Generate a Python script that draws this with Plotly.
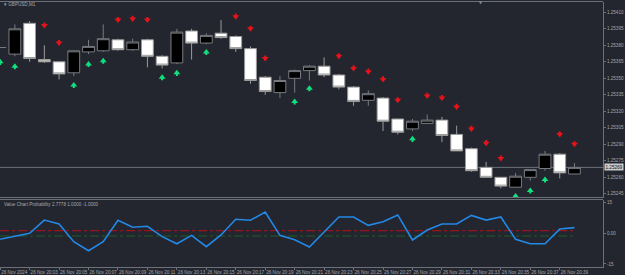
import plotly.graph_objects as go

# ---------------- data ----------------
bars = list(range(40))  # 26 Nov 20:01 ... 20:40 (M1)
opens = [1.25378, 1.25372, 1.25400, 1.25367, 1.25365, 1.25355, 1.25374, 1.25375, 1.25385, 1.25376,
         1.25385, 1.25370, 1.25364, 1.25393, 1.25382, 1.25391, 1.25388, 1.25377, 1.25351, 1.25337,
         1.25350, 1.25357, 1.25361, 1.25353, 1.25342, 1.25330, 1.25332, 1.25313, 1.25304, 1.25309,
         1.25312, 1.25299, 1.25286, 1.25269, 1.25260, 1.25251, 1.25260, 1.25268, 1.25281, 1.25263]
highs = [1.25378, 1.25399, 1.25402, 1.25380, 1.25365, 1.25375, 1.25385, 1.25399, 1.25386, 1.25386,
         1.25386, 1.25371, 1.25395, 1.25395, 1.25391, 1.25403, 1.25389, 1.25379, 1.25352, 1.25352,
         1.25358, 1.25362, 1.25369, 1.25354, 1.25343, 1.25339, 1.25333, 1.25313, 1.25313, 1.25317,
         1.25315, 1.25307, 1.25287, 1.25274, 1.25260, 1.25264, 1.25267, 1.25284, 1.25282, 1.25273]
lows = [1.25378, 1.25370, 1.25365, 1.25364, 1.25349, 1.25352, 1.25372, 1.25374, 1.25375, 1.25375,
        1.25360, 1.25359, 1.25363, 1.25367, 1.25381, 1.25386, 1.25374, 1.25345, 1.25335, 1.25332,
        1.25337, 1.25348, 1.25351, 1.25340, 1.25325, 1.25325, 1.25302, 1.25299, 1.25302, 1.25309,
        1.25292, 1.25284, 1.25265, 1.25260, 1.25250, 1.25251, 1.25257, 1.25266, 1.25259, 1.25263]
closes = [1.25378, 1.25395, 1.25368, 1.25365, 1.25354, 1.25375, 1.25379, 1.25386, 1.25376, 1.25383,
          1.25370, 1.25362, 1.25392, 1.25382, 1.25389, 1.25387, 1.25377, 1.25348, 1.25338, 1.25348,
          1.25357, 1.25361, 1.25353, 1.25342, 1.25329, 1.25336, 1.25311, 1.25301, 1.25311, 1.25312,
          1.25298, 1.25284, 1.25266, 1.25260, 1.25252, 1.25261, 1.25267, 1.25281, 1.25264, 1.25269]

sell_bars = [3, 4, 8, 9, 10, 16, 17, 18, 23, 24, 25, 26, 27, 29, 30, 31, 32, 33, 34, 38, 39]
sell_levels = [1.25398, 1.25382, 1.25403, 1.25404, 1.25403, 1.25406, 1.25395, 1.25368, 1.25370, 1.25359,
               1.25356, 1.25349, 1.25330, 1.25334, 1.25332, 1.25324, 1.25304, 1.25291, 1.25277, 1.25299,
               1.25290]
buy_bars = [0, 1, 5, 6, 7, 11, 12, 14, 20, 21, 28, 35, 36, 37]
buy_levels = [1.25365, 1.25361, 1.25344, 1.25363, 1.25366, 1.25351, 1.25355, 1.25374, 1.25329, 1.25341,
              1.25295, 1.25243, 1.25248, 1.25258]

value_chart = [-2.9, -1.45, 0.0, 6.5, 4.6, -4.1, -8.5, -4.1, 6.4, 3.0,
               3.45, -1.6, -5.1, -1.0, -6.5, -0.8, 6.9, 6.4, 10.45, -1.0,
               -3.1, -6.7, 0.5, 8.0, 8.0, 3.9, 5.7, 9.0, -3.25, 1.6,
               4.6, 4.6, 8.8, 6.5, 8.0, -2.9, -5.1, -5.1, 2.1, 2.8]
upper_level = 1.3
lower_level = -1.3

price_ticks = [1.25410, 1.25395, 1.25380, 1.25365, 1.25350, 1.25335, 1.25320,
               1.25305, 1.25290, 1.25275, 1.25260, 1.25245]
osc_ticks = [15, 0, -15]
osc_tick_text = ["15", "0.00", "-15"]
time_tick_bars = list(range(0, 40, 2))
time_tick_text = ["26 Nov 2024", "26 Nov 20:03", "26 Nov 20:05", "26 Nov 20:07", "26 Nov 20:09",
                  "26 Nov 20:11", "26 Nov 20:13", "26 Nov 20:15", "26 Nov 20:17", "26 Nov 20:19",
                  "26 Nov 20:21", "26 Nov 20:23", "26 Nov 20:25", "26 Nov 20:27", "26 Nov 20:29",
                  "26 Nov 20:31", "26 Nov 20:33", "26 Nov 20:35", "26 Nov 20:37", "26 Nov 20:39"]

# ---------------- style ----------------
BG = "#23262e"
FRAME = "#6c7078"
TXT = "#a3a7ae"
FONT = "Liberation Sans"
FS = 4.6
STEM = 0.000028  # arrow stem length (price units, style only)

W, H = 625, 275
ML, MR, MT, MB = 0, 22, 0, 8
PH = H - MT - MB
top_px, sep_px, sub_top_px = 1.5, 197.5, 199.5

fig = go.Figure()

fig.add_trace(go.Candlestick(
    x=bars, open=opens, high=highs, low=lows, close=closes,
    xaxis="x", yaxis="y", whiskerwidth=0, hoverinfo="skip",
    increasing=dict(fillcolor="#000000", line=dict(color="#777b80", width=1)),
    decreasing=dict(fillcolor="#ffffff", line=dict(color="#9a9a9a", width=1)),
))

fig.add_trace(go.Scatter(
    x=sell_bars, y=sell_levels, mode="markers", xaxis="x", yaxis="y", hoverinfo="skip",
    marker=dict(symbol="triangle-down", size=6, color="#e8121a", line=dict(width=0)),
    error_y=dict(type="constant", symmetric=False, value=STEM, valueminus=0,
                 color="#e8121a", thickness=2, width=0),
))
fig.add_trace(go.Scatter(
    x=buy_bars, y=buy_levels, mode="markers", xaxis="x", yaxis="y", hoverinfo="skip",
    marker=dict(symbol="triangle-up", size=6, color="#12e07e", line=dict(width=0)),
    error_y=dict(type="constant", symmetric=False, value=0, valueminus=STEM,
                 color="#12e07e", thickness=2, width=0),
))

fig.add_trace(go.Scatter(
    x=bars, y=[upper_level] * len(bars), mode="lines", xaxis="x", yaxis="y2", hoverinfo="skip",
    line=dict(color="#b3121a", width=1, dash="dashdot"),
))
fig.add_trace(go.Scatter(
    x=bars, y=[lower_level] * len(bars), mode="lines", xaxis="x", yaxis="y2", hoverinfo="skip",
    line=dict(color="#1f5f2a", width=1, dash="dashdot"),
))
fig.add_trace(go.Scatter(
    x=bars, y=value_chart, mode="lines", xaxis="x", yaxis="y2", hoverinfo="skip",
    line=dict(color="#2388e6", width=1.6),
))

def py(p):
    return 1 - (p - MT) / PH

spacing = 14.726
x0 = -0.01
x1 = x0 + (W - ML - MR) / spacing

def price_at(p):
    return 1.25410 - (p - 12.3) / 1.1 * 1e-5

def osc_at(p):
    return (233.35 - p) / 2.043

fig.update_layout(
    width=W, height=H, margin=dict(l=ML, r=MR, t=MT, b=MB),
    paper_bgcolor=BG, plot_bgcolor=BG, showlegend=False,
    boxgap=0.2, boxgroupgap=0,
    font=dict(family=FONT, size=FS, color=TXT),
    xaxis=dict(
        domain=[0, 1], range=[x0, x1], anchor="y2", rangeslider=dict(visible=False),
        tickmode="array", tickvals=time_tick_bars, ticktext=time_tick_text, tickangle=0,
        ticks="outside", ticklen=2, tickcolor=FRAME, ticklabelposition="outside right",
        showgrid=False, zeroline=False, showline=True, linecolor=FRAME, linewidth=1,
        tickfont=dict(size=FS, color=TXT, family=FONT),
    ),
    yaxis=dict(
        domain=[py(sep_px), py(top_px)], range=[price_at(sep_px), price_at(top_px)],
        side="right", anchor="x", tickmode="array", tickvals=price_ticks,
        ticktext=[f"{v:.5f}" for v in price_ticks],
        ticks="outside", ticklen=2, tickcolor=FRAME, showgrid=False, zeroline=False,
        showline=True, linecolor=FRAME, linewidth=1,
        tickfont=dict(size=FS, color=TXT, family=FONT),
    ),
    yaxis2=dict(
        domain=[0, py(sub_top_px)], range=[osc_at(H - MB), osc_at(sub_top_px)],
        side="right", anchor="x", tickmode="array", tickvals=osc_ticks, ticktext=osc_tick_text,
        ticks="outside", ticklen=2, tickcolor=FRAME, showgrid=False, zeroline=False,
        showline=True, linecolor=FRAME, linewidth=1,
        tickfont=dict(size=FS, color=TXT, family=FONT),
    ),
    shapes=[
        dict(type="line", xref="paper", yref="paper", x0=0, x1=1, y0=py(top_px), y1=py(top_px),
             line=dict(color=FRAME, width=1)),
        dict(type="line", xref="paper", yref="paper", x0=0, x1=1, y0=py(sep_px), y1=py(sep_px),
             line=dict(color=FRAME, width=1)),
        dict(type="line", xref="paper", yref="paper", x0=0, x1=1, y0=py(sub_top_px), y1=py(sub_top_px),
             line=dict(color=FRAME, width=1)),
        dict(type="line", xref="paper", yref="y", x0=0, x1=1, y0=closes[-1], y1=closes[-1],
             line=dict(color=FRAME, width=1), layer="below"),
    ],
    annotations=[
        dict(text="▾ GBPUSD,M1", xref="paper", yref="paper", x=0.003, y=py(4.5),
             xanchor="left", yanchor="middle", showarrow=False,
             font=dict(size=FS, color=TXT, family=FONT)),
        dict(text="Value Chart Probability 2.7778 1.0000 -1.0000", xref="paper", yref="paper",
             x=0.003, y=py(204.5), xanchor="left", yanchor="middle", showarrow=False,
             font=dict(size=FS, color=TXT, family=FONT)),
        dict(text=f"{closes[-1]:.5f}", xref="paper", yref="y", x=1.0, y=closes[-1],
             xanchor="left", yanchor="middle", showarrow=False, xshift=1,
             bgcolor="#c9cbcf", borderpad=0.5,
             font=dict(size=FS, color="#111111", family=FONT)),
        dict(text="▼", xref="paper", yref="paper", x=481 / (W - MR), y=py(2.5),
             xanchor="center", yanchor="middle", showarrow=False,
             font=dict(size=4, color="#8a8d93", family="DejaVu Sans")),
    ],
)

fig.write_html("out.html")
